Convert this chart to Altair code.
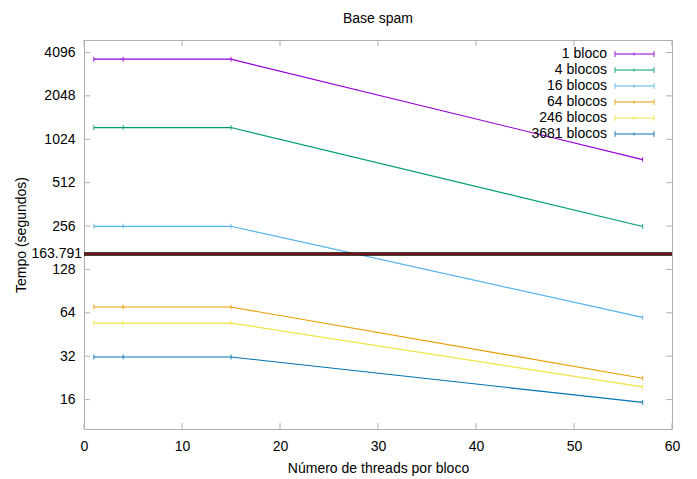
import altair as alt
import pandas as pd

# ---------------- data ----------------
threads = [1, 4, 15, 57]
series_names = ["1 bloco", "4 blocos", "16 blocos", "64 blocos", "246 blocos", "3681 blocos"]
series_colors = ["#9400d3", "#009e73", "#56b4e9", "#e69f00", "#f0e442", "#0072b2"]
t_1 = [3680, 3680, 3680, 740]
t_4 = [1235, 1235, 1235, 254]
t_16 = [255, 255, 255, 59.5]
t_64 = [70.2, 70.2, 70.2, 22.5]
t_246 = [54.3, 54.3, 54.3, 19.6]
t_3681 = [31.6, 31.6, 31.6, 15.3]
ref_value = 163.791
ref_label = "163.791"
y_ticks = [16, 32, 64, 128, 256, 512, 1024, 2048, 4096]
x_ticks = [0, 10, 20, 30, 40, 50, 60]

all_series = [t_1, t_4, t_16, t_64, t_246, t_3681]
rows = []
for name, vals in zip(series_names, all_series):
    for xv, yv in zip(threads, vals):
        rows.append({"s": name, "x": xv, "y": yv})
df = pd.DataFrame(rows)
df_ref = pd.DataFrame({"y": [ref_value], "t": [ref_label]})
df_yt = pd.DataFrame({"y": y_ticks})
df_xt = pd.DataFrame({"x": x_ticks})
df_leg = pd.DataFrame({"s": series_names, "r": list(range(len(series_names)))})

W, H = 588, 389
FONT = "Liberation Sans"
GRAY = "#b0b0b0"

xs = alt.Scale(domain=[0, 60], nice=False, zero=False)
ys = alt.Scale(type="log", base=2, domain=[10, 5000], nice=False)
color = alt.Color("s:N", scale=alt.Scale(domain=series_names, range=series_colors), legend=None)

X = alt.X("x:Q", scale=xs, title="Número de threads por bloco",
          axis=alt.Axis(values=x_ticks, tickSize=0, domain=False, grid=False, labelFlush=False,
                        labelPadding=10, titlePadding=8, labelFontSize=14, titleFontSize=14,
                        labelFont=FONT, titleFont=FONT, titleFontWeight="normal",
                        labelColor="black", titleColor="black"))
Y = alt.Y("y:Q", scale=ys, title="Tempo (segundos)",
          axis=alt.Axis(values=y_ticks, format="d", tickSize=0, domain=False, grid=False,
                        labelFlush=False, labelOverlap=False, labelPadding=9, titlePadding=15,
                        labelFontSize=14, titleFontSize=14, labelFont=FONT, titleFont=FONT,
                        titleFontWeight="normal", labelColor="black", titleColor="black"))

lines = alt.Chart(df).mark_line(strokeWidth=1.2).encode(x=X, y=Y, color=color, order="x:Q")
pts = alt.Chart(df).mark_point(shape="M0,-1V1", size=25, strokeWidth=1.2, filled=False).encode(x=X, y=Y, color=color)

ref_black = alt.Chart(df_ref).mark_rule(color="black", strokeWidth=3.5).encode(y=Y)
ref_red = alt.Chart(df_ref).mark_rule(color="#a01818", strokeWidth=1.3).encode(y=Y)
ref_text = alt.Chart(df_ref).mark_text(align="right", baseline="middle", fontSize=14, font=FONT,
                                       color="black").encode(y=Y, x=alt.value(-2), text="t:N")

yt_left = alt.Chart(df_yt).mark_rule(color=GRAY).encode(y=Y, x=alt.value(0), x2=alt.value(6))
yt_right = alt.Chart(df_yt).mark_rule(color=GRAY).encode(y=Y, x=alt.value(W - 6), x2=alt.value(W))
xt_bot = alt.Chart(df_xt).mark_rule(color=GRAY).encode(x=X, y=alt.value(H - 6), y2=alt.value(H))
xt_top = alt.Chart(df_xt).mark_rule(color=GRAY).encode(x=X, y=alt.value(0), y2=alt.value(6))

main = alt.layer(yt_left, yt_right, xt_bot, xt_top, lines, pts, ref_black, ref_red, ref_text)

LY = alt.Y("r:Q", scale=alt.Scale(domain=[0, 5], range=[14, 94], nice=False, zero=False), axis=None)
leg_text = alt.Chart(df_leg).mark_text(align="right", baseline="middle", fontSize=14, font=FONT, color="black").encode(
    y=LY, x=alt.value(523), text="s:N")
leg_line = alt.Chart(df_leg).mark_rule(strokeWidth=1.2).encode(y=LY, x=alt.value(531), x2=alt.value(570), color=color)
leg_cap1 = alt.Chart(df_leg).mark_point(shape="M0,-1V1", size=36, strokeWidth=1.2, filled=False).encode(
    y=LY, x=alt.value(531), color=color)
leg_cap2 = alt.Chart(df_leg).mark_point(shape="M0,-1V1", size=36, strokeWidth=1.2, filled=False).encode(
    y=LY, x=alt.value(570), color=color)
leg_mid = alt.Chart(df_leg).mark_point(shape="M0,-1V1", size=9, strokeWidth=1.2, filled=False).encode(
    y=LY, x=alt.value(550), color=color)
legend = alt.layer(leg_text, leg_line, leg_cap1, leg_cap2, leg_mid)

chart = alt.layer(main, legend).resolve_scale(y="independent").properties(
    width=W, height=H,
    title=alt.Title("Base spam", fontSize=14, font=FONT, fontWeight="normal", color="black", offset=14),
    autosize=alt.AutoSizeParams(type="none"),
    padding={"left": 76, "top": 32, "right": 14, "bottom": 50},
).configure_view(stroke=GRAY, strokeWidth=1)

chart.save("out.html", embed_options={"renderer": "svg", "actions": False})
